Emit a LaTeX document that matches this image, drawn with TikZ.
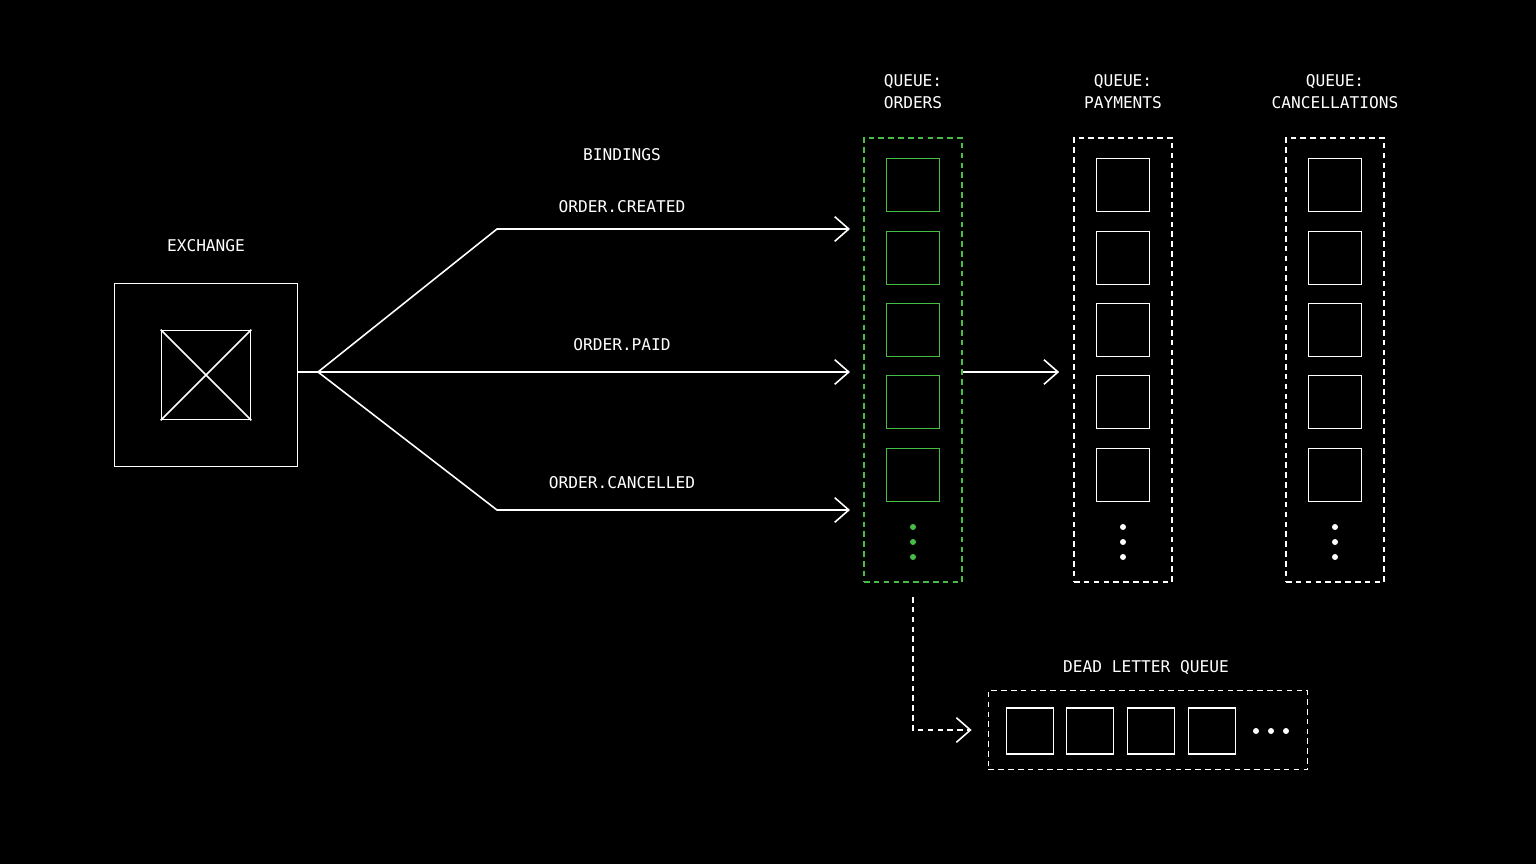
\documentclass[tikz,border=0pt]{standalone}
\usepackage{fontspec}
\setmonofont{DejaVu Sans Mono}
\definecolor{queuegreen}{RGB}{70, 190, 70}
\usetikzlibrary{arrows.meta,positioning}
\tikzset{
  >={Straight Barb[length=4pt,width=7pt]},
  qdash/.style={dash pattern=on 1.6pt off 1.2pt},
  lbl/.style={text=white,font=\ttfamily\fontsize{4.6}{6.2}\selectfont,align=center},
  slot/.style={draw,rectangle,minimum width=0.53cm,minimum height=0.53cm,inner sep=0pt},
  qbox/.style={draw,qdash,rectangle,minimum width=0.98cm,minimum height=4.44cm,inner sep=0pt},
}

\begin{document}
\begin{tikzpicture}[x=0.01cm,y=-0.01cm,line width=0.45pt,draw=white,
    every node/.style={draw=white}]
    \fill[black] (0,0) rectangle (1536,864);

        % exchange
        \node[draw,rectangle,minimum width=1.83cm,minimum height=1.83cm,inner sep=0pt]  (ex)   at (206,375)  {};
        \node[draw,rectangle,minimum width=0.89cm,minimum height=0.89cm,inner sep=0pt]  (exin) at (206,375)  {};
        \draw (exin.north west) -- (exin.south east);
        \draw (exin.north east) -- (exin.south west);
        \node[lbl,draw=none] (exlbl) at (206,246) {EXCHANGE};
        \coordinate (fork) at (318,372);
        \coordinate (bendup) at (497,229);
        \coordinate (benddn) at (497,510);

        % queues
        \node[qbox,draw=queuegreen] (qo) at (913,360) {};
        \node[qbox] (qp) at (1123,360) {};
        \node[qbox] (qc) at (1335,360) {};
        \foreach \q/\x/\c in {qo/913/queuegreen,qp/1123/white,qc/1335/white} {
            \foreach \i/\y in {1/185,2/258,3/330,4/402,5/475} {
                \node[slot,draw=\c] (\q\i) at (\x,\y) {};
            }
            \foreach \y in {527,542,557}
                \fill[\c] (\x,\y) circle (3);
        }
        \node[lbl,draw=none] (qolbl) at (913,92)  {QUEUE:\\ORDERS};
        \node[lbl,draw=none] (qplbl) at (1123,92) {QUEUE:\\PAYMENTS};
        \node[lbl,draw=none] (qclbl) at (1335,92) {QUEUE:\\CANCELLATIONS};

        % bindings
        \node[lbl,draw=none] (bind)   at (622,155) {BINDINGS};
        \node[lbl,draw=none] (bcre)   at (622,207) {ORDER.CREATED};
        \node[lbl,draw=none] (bpaid)  at (622,345) {ORDER.PAID};
        \node[lbl,draw=none] (bcanc)  at (622,483) {ORDER.CANCELLED};
        \coordinate (incre)  at (850,229);
        \coordinate (inpaid) at (850,372);
        \coordinate (incanc) at (850,510);

        \draw (ex.east |- fork) -- (fork);
        \draw[->] (fork) -- (bendup) -- (incre);
        \draw[->] (fork) -- (inpaid);
        \draw[->] (fork) -- (benddn) -- (incanc);
        \draw[->] (qo.east |- inpaid) -- ([xshift=-0.14cm]qp.west |- inpaid);

        % dead letter queue
        \node[draw,qdash,rectangle,minimum width=3.19cm,minimum height=0.79cm,inner sep=0pt] (dlq) at (1148,730) {};
        \node[lbl,draw=none] (dlqlbl) at (1146,668) {DEAD LETTER QUEUE};
        \foreach \i/\x in {1/1030,2/1090,3/1151,4/1212}
            \node[draw,rectangle,minimum width=0.47cm,minimum height=0.46cm,inner sep=0pt] (d\i) at (\x,731) {};
        \foreach \x in {1256,1271,1286}
            \fill[white] (\x,731) circle (3);
        \coordinate (dlqtop) at (913,597);
        \draw[qdash,->] (dlqtop) |- ([xshift=-0.16cm]dlq.west);

    \end{tikzpicture}
\end{document}
